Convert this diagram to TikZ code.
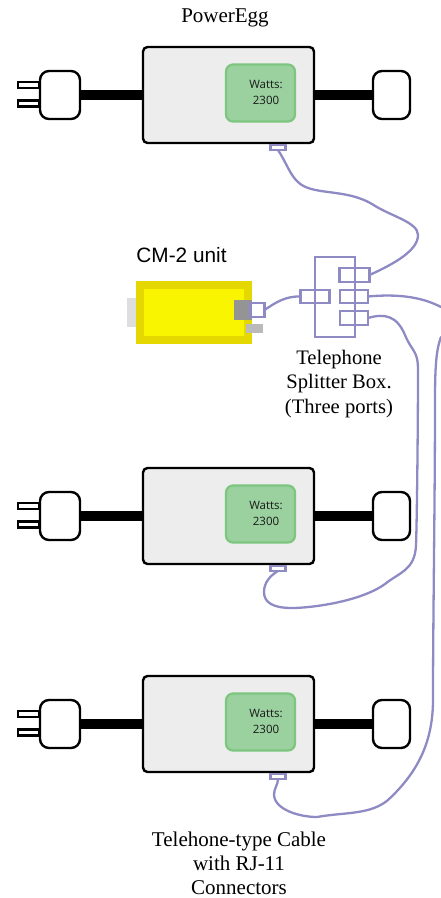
\documentclass[tikz,border=0pt]{standalone}
\usepackage{fontspec}
\setmainfont{Liberation Serif}
\newfontfamily\armfont{Liberation Sans}
\newfontfamily\wattfont{Open Sans}
\definecolor{cablec}{HTML}{8E8AC4}
\definecolor{greenf}{HTML}{9BD09F}
\definecolor{greend}{HTML}{7CC67F}
\definecolor{boxf}{HTML}{EDEDED}
\definecolor{cmouter}{RGB}{229,216,0}
\definecolor{cminner}{RGB}{249,244,0}
\tikzset{
  every node/.style={inner sep=0pt,outer sep=0pt},
  unitbox/.style={draw=black,line width=2.4pt,fill=boxf,rounded corners=4.5pt,minimum width=171pt,minimum height=96pt},
  plugbox/.style={draw=black,line width=2.4pt,fill=white,rounded corners=9pt,minimum width=40pt,minimum height=48pt},
  endbox/.style={draw=black,line width=2.4pt,fill=white,rounded corners=9pt,minimum width=37pt,minimum height=48pt},
  prong/.style={draw=black,line width=2.6pt,fill=white,minimum width=21pt,minimum height=6pt},
  cord/.style={draw=black,line width=9.5pt},
  meter/.style={draw=greend,line width=2.2pt,fill=greenf,rounded corners=7pt,minimum width=69pt,minimum height=57pt},
  watt/.style={font=\wattfont\fontsize{11.5}{16}\selectfont,align=center,text=black!90},
  cable/.style={draw=cablec,line width=2.3pt,line cap=round},
  jack/.style={draw=cablec,line width=2.4pt,fill=none},
  caption/.style={font=\fontsize{20.6}{24.6}\selectfont,align=center},
}
\begin{document}
\begin{tikzpicture}[x=1pt,y=-1pt]
\useasboundingbox (0,0) rectangle (441,898);
% Three PowerEgg units
\foreach \nm/\dy in {a/0,b/421,c/629}{
  \node[prong] (\nm p1) at (28.5,85+\dy) {};
  \node[prong] (\nm p2) at (28.5,103.5+\dy) {};
  \node[unitbox] (\nm box) at (228.5,95+\dy) {};
  \node[plugbox] (\nm plug) at (60,95+\dy) {};
  \node[endbox] (\nm end) at (391.5,95+\dy) {};
  \draw[cord] (\nm plug.east) -- (\nm box.west);
  \draw[cord] (\nm box.east) -- (\nm end.west);
  \node[meter] (\nm m) at (260.5,93+\dy) {};
  \node[watt] (\nm w) at (266,92.5+\dy) {Watts:\\2300};
  \node[jack,minimum width=15pt,minimum height=5pt] (\nm j) at (278,147.5+\dy) {};
}
% CM-2 unit
\node[fill=black!13,minimum width=10pt,minimum height=29pt] (cmback) at (132,312.5) {};
\node[fill=cmouter,minimum width=116pt,minimum height=63pt] (cmo) at (194,312.5) {};
\node[fill=cminner,minimum width=100pt,minimum height=47pt] (cmi) at (194,312.5) {};
\node[fill=black!42,minimum width=18pt,minimum height=20pt] (cmd) at (243,310) {};
\node[fill=black!27,minimum width=17pt,minimum height=9pt] (cml) at (254.5,328.5) {};
\node[jack,minimum width=14pt,minimum height=14pt] (cmj) at (257.5,310) {};
% Splitter box
\node[draw=cablec,line width=2.4pt,minimum width=40pt,minimum height=80pt] (spl) at (335,297) {};
\node[jack,minimum width=29pt,minimum height=13pt] (sl) at (315,296.5) {};
\node[jack,minimum width=30pt,minimum height=14pt] (st) at (354.5,275) {};
\node[jack,minimum width=28pt,minimum height=13pt] (sm) at (354,296.5) {};
\node[jack,minimum width=28pt,minimum height=14pt] (sb) at (354,318) {};
% Cables
\coordinate (e1) at (441,307);
\coordinate (e2) at (441,337);
\draw[cable] (aj.south) .. controls (286,162) and (290,175) .. (298,182)
  .. controls (312,196) and (345,188) .. (372,204)
  .. controls (390,216) and (418,222) .. (418,235)
  .. controls (418,250) and (396,263) .. (st.east);
\draw[cable] (cmj.east) .. controls (275,303) and (285,296) .. (sl.west);
\draw[cable] (sm.east) .. controls (395,294) and (420,296) .. (e1);
\draw[cable] (e2) .. controls (437,348) and (435,360) .. (435,400)
  .. controls (435,500) and (433,620) .. (433,700)
  .. controls (433,745) and (415,775) .. (388,800)
  .. controls (370,815) and (345,812) .. (317,817)
  .. controls (300,817) and (275,810) .. (274,795)
  .. controls (274,788) and (278,785) .. (cj.south);
\draw[cable] (sb.east) .. controls (385,313) and (397,316) .. (405,335)
  .. controls (412,352) and (418,350) .. (418,370)
  .. controls (418,420) and (417,520) .. (416,545)
  .. controls (415,570) and (400,572) .. (385,584)
  .. controls (360,602) and (310,608) .. (292,608)
  .. controls (272,608) and (264,602) .. (264,592)
  .. controls (264,582) and (271,575) .. (bj.south);
% Labels
\node[font=\fontsize{21}{25}\selectfont] (t1) at (225,18) {PowerEgg};
\node[font=\armfont\fontsize{20.8}{25}\selectfont] (t2) at (181.5,255) {CM-2 unit};
\node[caption] (t3) at (339,384) {Telephone\\Splitter Box.\\(Three ports)};
\node[font=\fontsize{21}{24}\selectfont,align=center] (t4) at (239,863) {Telehone-type Cable\\with RJ-11\\Connectors};
\end{tikzpicture}
\end{document}
